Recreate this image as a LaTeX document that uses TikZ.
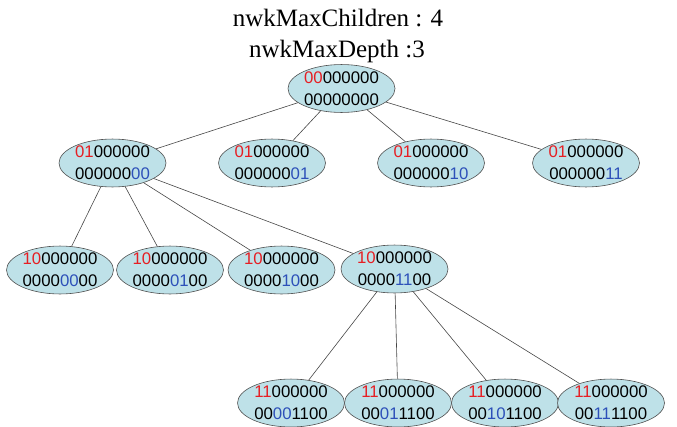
\documentclass[tikz,border=0pt]{standalone}
\usepackage{fontspec}
\setmainfont{Liberation Serif}
\newfontfamily\nodefont{Liberation Sans}
\usetikzlibrary{shapes.geometric}
\definecolor{nodefill}{RGB}{190,225,232}
\definecolor{nodeline}{RGB}{80,80,80}
\definecolor{edgecol}{RGB}{70,70,70}
\definecolor{digred}{RGB}{230,30,35}
\definecolor{digblue}{RGB}{45,80,185}
\newcommand{\rd}[1]{\textcolor{digred}{#1}}
\newcommand{\bl}[1]{\textcolor{digblue}{#1}}
\tikzset{
  addr/.style={ellipse, draw=nodeline, line width=0.6pt, fill=nodefill,
    minimum width=107pt, minimum height=47pt, inner sep=0pt, align=center,
    font=\nodefont\fontsize{16.8}{22}\selectfont},
  link/.style={draw=edgecol, line width=0.6pt},
  titletext/.style={font=\fontsize{25}{31}\selectfont, align=center, inner sep=0pt}
}
\begin{document}
\begin{tikzpicture}[x=1pt,y=-1pt]
\useasboundingbox (0,0) rectangle (677,426);
\node[titletext, anchor=base] (t1) at (338,26) {nwkMaxChildren : 4};
\node[titletext, anchor=base] (t2) at (337,57) {nwkMaxDepth :3};

\node[addr] (r) at (341.5,88.5) {\rd{00}000000\\00000000};

\node[addr] (a1) at (112.5,163) {\rd{01}000000\\000000\bl{00}};
\node[addr] (a2) at (272,163) {\rd{01}000000\\000000\bl{01}};
\node[addr] (a3) at (431,163) {\rd{01}000000\\000000\bl{10}};
\node[addr] (a4) at (586,163) {\rd{01}000000\\000000\bl{11}};

\node[addr] (b1) at (60,270) {\rd{10}000000\\0000\bl{00}00};
\node[addr] (b2) at (170,270) {\rd{10}000000\\0000\bl{01}00};
\node[addr] (b3) at (281.5,270) {\rd{10}000000\\0000\bl{10}00};
\node[addr] (b4) at (394.5,269) {\rd{10}000000\\0000\bl{11}00};

\node[addr] (c1) at (291,403) {\rd{11}000000\\00\bl{00}1100};
\node[addr] (c2) at (398,403) {\rd{11}000000\\00\bl{01}1100};
\node[addr] (c3) at (505,403) {\rd{11}000000\\00\bl{10}1100};
\node[addr] (c4) at (611,403) {\rd{11}000000\\00\bl{11}1100};

\foreach \ch in {a1,a2,a3,a4} \draw[link] (r) -- (\ch);
\foreach \ch in {b1,b2,b3,b4} \draw[link] (a1) -- (\ch);
\foreach \ch in {c1,c2,c3,c4} \draw[link] (b4) -- (\ch);
\end{tikzpicture}
\end{document}
